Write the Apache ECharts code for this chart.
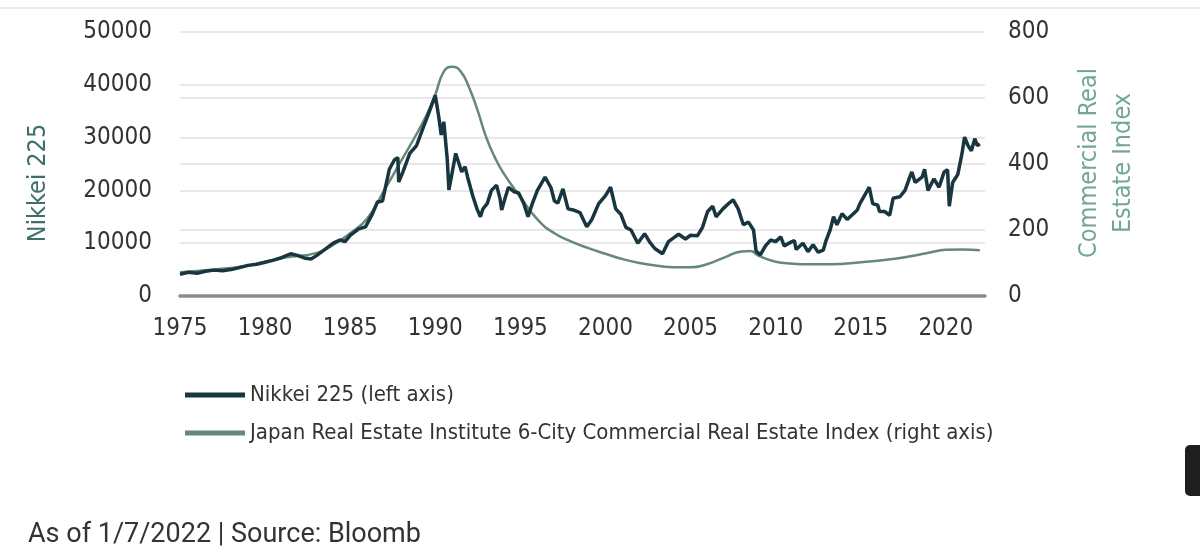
<!DOCTYPE html>
<html>
<head>
<meta charset="utf-8">
<script src="https://cdn.jsdelivr.net/npm/echarts@6/dist/echarts.min.js"></script>
<style>
  html, body { margin: 0; padding: 0; background: #fff; }
  #chart { width: 1200px; height: 554px; }
</style>
</head>
<body>
<div id="chart"></div>
<script>
// Nikkei 225 (left axis)
const nikkeiYears = [
  1975.0, 1975.5, 1976.0, 1976.5, 1977.0, 1977.5, 1978.0, 1978.5, 1979.0, 1979.5,
  1980.0, 1980.5, 1981.0, 1981.5, 1981.9, 1982.3, 1982.7, 1983.0, 1983.5, 1984.0,
  1984.4, 1984.7, 1985.0, 1985.5, 1985.9, 1986.3, 1986.6, 1986.9, 1987.3, 1987.6,
  1987.8, 1987.85, 1988.1, 1988.5, 1988.9, 1989.3, 1989.6, 1990.0, 1990.2, 1990.35,
  1990.5, 1990.7, 1990.8, 1991.0, 1991.2, 1991.4, 1991.55, 1991.75, 1991.9, 1992.2,
  1992.45, 1992.65, 1992.8, 1993.05, 1993.3, 1993.6, 1993.8, 1993.9, 1994.1, 1994.3,
  1994.6, 1994.9, 1995.2, 1995.45, 1995.7, 1996.0, 1996.45, 1996.8, 1997.0, 1997.2,
  1997.5, 1997.8, 1998.1, 1998.5, 1998.9, 1999.2, 1999.6, 2000.0, 2000.3, 2000.6,
  2000.9, 2001.2, 2001.5, 2001.9, 2002.3, 2002.6, 2002.9, 2003.35, 2003.7, 2004.0,
  2004.3, 2004.7, 2005.0, 2005.4, 2005.7, 2006.0, 2006.3, 2006.5, 2006.9, 2007.3,
  2007.5, 2007.8, 2008.1, 2008.4, 2008.7, 2008.85, 2009.1, 2009.4, 2009.7, 2010.0,
  2010.3, 2010.5, 2010.9, 2011.1, 2011.2, 2011.6, 2011.9, 2012.2, 2012.5, 2012.8,
  2012.95, 2013.2, 2013.4, 2013.6, 2013.9, 2014.2, 2014.5, 2014.8, 2014.95, 2015.3,
  2015.5, 2015.7, 2016.0, 2016.1, 2016.4, 2016.7, 2016.9, 2017.3, 2017.6, 2017.9,
  2018.0, 2018.2, 2018.6, 2018.75, 2018.95, 2019.3, 2019.6, 2019.9, 2020.1, 2020.2,
  2020.4, 2020.7, 2020.95, 2021.1, 2021.3, 2021.5, 2021.7, 2021.85, 2022.0
];
const nikkeiValues = [
  4100, 4500, 4300, 4700, 4900, 4800, 5000, 5400, 5800, 6000,
  6400, 6800, 7300, 8000, 7700, 7200, 7000, 7600, 8800, 10000,
  10600, 10300, 11500, 12700, 13100, 15500, 17800, 18000, 24000, 25800,
  26200, 21600, 23500, 27000, 28500, 32000, 34500, 38000, 34000, 30500,
  33000, 26000, 20100, 23500, 27000, 25000, 23500, 24500, 22500, 19000,
  16500, 15000, 16500, 17500, 20000, 21000, 18500, 16300, 18500, 20600,
  19800, 19500, 17500, 15000, 17500, 20000, 22500, 20500, 18000, 17600,
  20300, 16500, 16300, 15800, 13100, 14500, 17500, 19000, 20600, 16500,
  15500, 13000, 12500, 10000, 11800, 10200, 9000, 8000, 10300, 11000,
  11700, 10800, 11500, 11400, 13000, 16000, 17000, 15000, 16500, 17700,
  18200, 16500, 13500, 14000, 12500, 8500, 7800, 9500, 10600, 10300,
  11200, 9500, 10200, 10500, 8800, 10000, 8400, 9700, 8300, 8700,
  10400, 12500, 15000, 13500, 15600, 14500, 15400, 16300, 17500, 19500,
  20600, 17500, 17200, 16000, 16000, 15300, 18500, 18800, 20000, 22700,
  23500, 21500, 22500, 24000, 20000, 22200, 20600, 23500, 23900, 17000,
  21500, 23000, 27000, 30100, 28500, 27500, 29800, 28500, 28800
];

// Commercial real estate index (right axis)
const reYears = [
  1975, 1977, 1979, 1981, 1983, 1984, 1985, 1986, 1987, 1988,
  1989, 1989.5, 1990, 1990.5, 1991, 1991.5, 1992, 1992.5, 1993, 1993.5,
  1994, 1995, 1996, 1997, 1998, 1999, 2000, 2001, 2002, 2003,
  2004, 2005, 2006, 2007, 2008, 2008.5, 2009, 2010, 2011, 2012,
  2013, 2014, 2015, 2016, 2017, 2018, 2019, 2020, 2021, 2022
];
const reValues = [
  72, 80, 92, 115, 130, 155, 190, 235, 320, 410,
  500, 550, 610, 680, 695, 680, 630, 560, 480, 420,
  373, 300, 232, 190, 165, 145, 128, 112, 100, 92,
  87, 87, 97, 117, 135, 136, 122, 104, 98, 96,
  96, 98, 102, 107, 113, 121, 131, 140, 141, 139
];

const seriesNames = [
  'Nikkei 225 (left axis)',
  'Japan Real Estate Institute 6-City Commercial Real Estate Index (right axis)'
];

const zip = (xs, ys) => xs.map((x, i) => [x, ys[i]]);

const condensed = '"Liberation Sans Narrow", "DejaVu Sans Condensed", "Roboto Condensed", sans-serif';
const gridLine = { show: true, lineStyle: { color: '#e8e8e8', width: 2 } };
const plain = (v) => String(v);

const chart = echarts.init(document.getElementById('chart'));
chart.setOption({
  animation: false,
  backgroundColor: '#fff',
  grid: { left: 180, right: 215, top: 32, bottom: 258 },
  legend: {
    orient: 'vertical',
    left: 185,
    top: 384,
    padding: 0,
    itemGap: 16,
    itemWidth: 60,
    itemHeight: 5,
    icon: 'rect',
    textStyle: { fontFamily: condensed, fontSize: 22, color: '#333' },
    data: seriesNames
  },
  xAxis: {
    type: 'value',
    min: 1975,
    max: 2022.3,
    interval: 5,
    splitLine: { show: false },
    axisTick: { show: false },
    axisLine: { show: true, lineStyle: { color: '#8a8a8a', width: 3.5 } },
    axisLabel: {
      color: '#333', fontFamily: condensed, fontSize: 24, margin: 21,
      showMaxLabel: false, formatter: plain
    }
  },
  yAxis: [
    {
      type: 'value', min: 0, max: 50000, interval: 10000,
      splitLine: gridLine,
      axisLine: { show: false }, axisTick: { show: false },
      axisLabel: { color: '#333', fontFamily: condensed, fontSize: 24, margin: 28, formatter: plain }
    },
    {
      type: 'value', min: 0, max: 800, interval: 200,
      splitLine: gridLine,
      axisLine: { show: false }, axisTick: { show: false },
      axisLabel: { color: '#333', fontFamily: condensed, fontSize: 24, margin: 23, formatter: plain }
    }
  ],
  series: [
    {
      name: seriesNames[1],
      type: 'line',
      yAxisIndex: 1,
      smooth: true,
      showSymbol: false,
      color: '#66877a',
      lineStyle: { width: 2.5, color: '#66877a' },
      data: zip(reYears, reValues),
      z: 2
    },
    {
      name: seriesNames[0],
      type: 'line',
      yAxisIndex: 0,
      showSymbol: false,
      color: '#183640',
      lineStyle: { width: 3.5, color: '#183640' },
      data: zip(nikkeiYears, nikkeiValues),
      z: 3
    }
  ],
  graphic: [
    {
      type: 'rect', left: 0, top: 7,
      shape: { width: 1200, height: 2 },
      style: { fill: '#ececec' }
    },
    {
      type: 'text', rotation: Math.PI / 2, x: 38, y: 183,
      style: {
        text: 'Nikkei 225', fontFamily: condensed, fontSize: 25,
        fill: '#3f6f69', align: 'center', verticalAlign: 'middle'
      }
    },
    {
      type: 'text', rotation: Math.PI / 2, x: 1106, y: 163,
      style: {
        text: 'Commercial Real\nEstate Index', fontFamily: condensed, fontSize: 25,
        lineHeight: 34, fill: '#72a69b', align: 'center', verticalAlign: 'middle'
      }
    },
    {
      type: 'text', left: 28, top: 522,
      style: {
        text: 'As of 1/7/2022 | Source: Bloomberg', fontFamily: 'Roboto, sans-serif',
        fontSize: 27, fill: '#333', width: 402, overflow: 'truncate', ellipsis: ''
      }
    },
    {
      type: 'rect', left: 1185, top: 445,
      shape: { width: 24, height: 51, r: 5 },
      style: { fill: '#1e1e1e' }
    }
  ]
});
</script>
</body>
</html>
